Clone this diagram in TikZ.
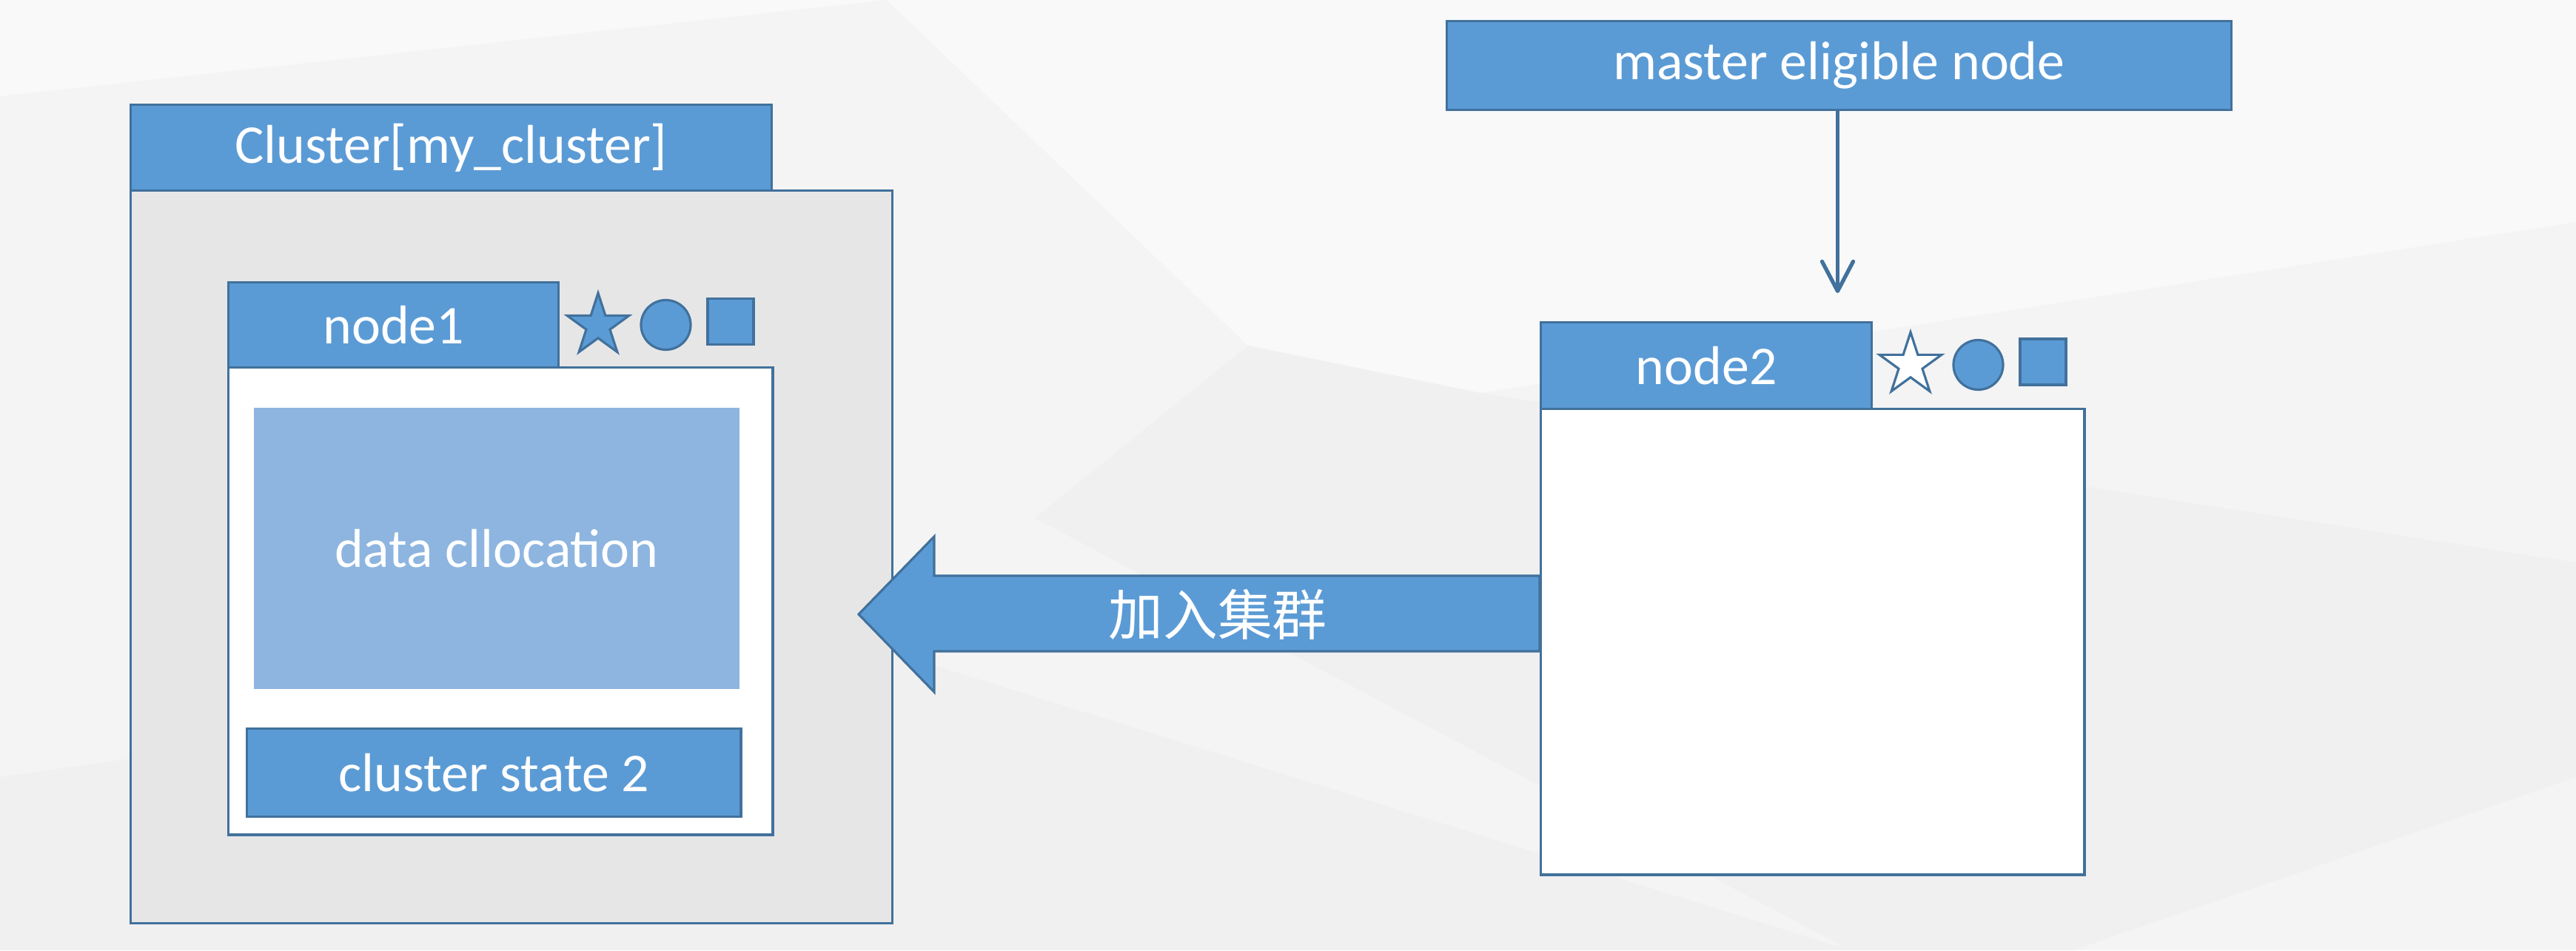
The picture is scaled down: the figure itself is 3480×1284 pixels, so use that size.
\documentclass[tikz,border=0pt]{standalone}
\usepackage{fontspec}
\setmainfont{Carlito}
\newfontfamily\cjk{Noto Sans CJK SC}
\usetikzlibrary{shapes.geometric,arrows.meta}
\definecolor{blu}{HTML}{5B9BD5}
\definecolor{bdr}{HTML}{41719C}
\definecolor{lblu}{HTML}{8DB5E0}
\definecolor{cgray}{HTML}{E7E6E6}
\definecolor{bgA}{HTML}{F4F4F4}
\definecolor{bgB}{HTML}{F9F9F9}
\definecolor{bgC}{HTML}{F0F0F0}
\begin{document}
\begin{tikzpicture}[x=0.01cm,y=-0.01cm,
  box/.style={draw=bdr,line width=0.9pt,inner sep=0pt,anchor=north west},
  bluebox/.style={box,fill=blu,text=white,font=\fontsize{21}{25}\selectfont},
  whitebox/.style={box,fill=white},
  icon/.style={draw=bdr,line width=0.9pt,inner sep=0pt,fill=blu},
  starico/.style={icon,star,star points=5,star point ratio=2.618,minimum size=0.88cm},
  circico/.style={icon,circle,minimum size=0.67cm},
  sqico/.style={icon,rectangle,minimum size=0.62cm},
]
% background
\fill[bgA] (0,0) rectangle (3480,1284);
\fill[bgB] (1198,0) -- (3480,0) -- (3480,300) -- (2000,531) -- (1686,467) -- cycle;
\fill[bgC] (1686,467) -- (2000,531) -- (3480,760) -- (3480,1050) -- (2800,1284) -- (2500,1284) -- (1398,700) -- cycle;
\fill[bgC] (0,1050) -- (1200,880) -- (2500,1284) -- (0,1284) -- cycle;
\fill[bgB] (0,0) -- (1198,0) -- (0,130) -- cycle;
\useasboundingbox (0,0) rectangle (3480,1284);

% cluster
\node[box,fill=cgray,minimum width=10.28cm,minimum height=9.89cm] (clusterbody) at (175,256) {};
\node[bluebox,minimum width=8.65cm,minimum height=1.16cm] (clustertitle) at (175,140) {Cluster[my\_cluster]};

% node1
\node[whitebox,minimum width=7.35cm,minimum height=6.31cm] (node1body) at (307,495) {};
\node[bluebox,minimum width=4.46cm,minimum height=1.15cm] (node1title) at (307,380) {node1};
\node[anchor=north west,inner sep=0pt,fill=lblu,text=white,font=\fontsize{21}{25}\selectfont,minimum width=6.56cm,minimum height=3.80cm] (data) at (342,550) {data cllocation};
\node[bluebox,minimum width=6.67cm,minimum height=1.19cm] (cstate) at (332,983) {cluster state 2};
\node[starico] (star1) at (808,440) {};
\node[circico] (circ1) at (899.5,439) {};
\node[sqico] (sq1) at (987,434.5) {};

% node2
\node[whitebox,minimum width=7.34cm,minimum height=6.29cm] (node2body) at (2080,551) {};
\coordinate (tip) at (1160,830);
\draw[draw=bdr,fill=blu,line width=0.9pt,line join=miter]
  (2080,778) -- (1262,778) -- (1262,725) -- (tip) -- (1262,935) -- (1262,880) -- (2080,880) -- cycle;
\node[text=white,font=\cjk\fontsize{21}{25}\selectfont] (joinlbl) at (1645,830) {加入集群};
\node[bluebox,minimum width=4.47cm,minimum height=1.17cm] (node2title) at (2080,434) {node2};
\node[starico,fill=white] (star2) at (2581,493) {};
\node[circico] (circ2) at (2672.5,493) {};
\node[sqico] (sq2) at (2760,489) {};

% master
\node[bluebox,minimum width=10.59cm,minimum height=1.20cm] (master) at (1953,27) {master eligible node};
\coordinate (mtip) at (2482.5,396);
\draw[bdr,line width=1.5pt,-{Straight Barb[length=4mm,width=4.2mm,line join=round,line cap=round]}] (mtip |- master.south) -- (mtip);
\end{tikzpicture}
\end{document}
